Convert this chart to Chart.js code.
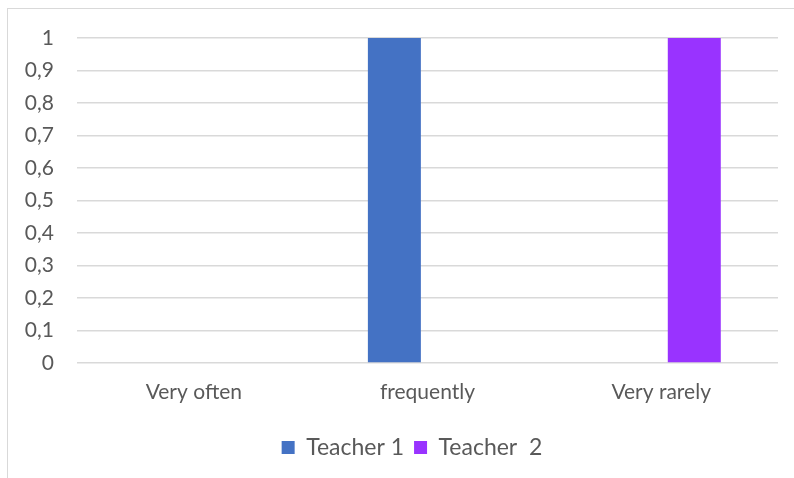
<!DOCTYPE html>
<html>
<head>
<meta charset="utf-8">
<script src="https://cdn.jsdelivr.net/npm/chart.js@4.4.1/dist/chart.umd.min.js"></script>
<style>
  html, body { margin: 0; padding: 0; background: #fff; overflow: hidden; }
  #frame {
    position: absolute; left: 7px; top: 8px;
    width: 800px; height: 480px;
    border-left: 1px solid #d9d9d9; border-top: 1px solid #d9d9d9;
  }
  #wrap { position: absolute; left: 0; top: 0; width: 786px; height: 469px; }
</style>
</head>
<body>
<div id="frame"><div id="wrap"><canvas id="chart"></canvas></div></div>
<script>
const categories = ['Very often', 'frequently', 'Very rarely'];
const teacher1 = [0, 1, 0];
const teacher2 = [0, 0, 1];
const seriesNames = ['Teacher 1', 'Teacher  2'];

const textColor = '#595959';
const fontFamily = 'Lato, "Noto Sans", sans-serif';

Chart.defaults.font.family = fontFamily;
Chart.defaults.color = textColor;

// nudge the legend a little to the right of the canvas centre
const legendShift = {
  id: 'legendShift',
  afterLayout(chart, args, opts) {
    const lg = chart.legend;
    lg.left += opts.dx;
    lg.right += opts.dx;
  }
};

new Chart(document.getElementById('chart'), {
  type: 'bar',
  data: {
    labels: categories,
    datasets: [
      { label: seriesNames[0], data: teacher1, backgroundColor: '#4472C4' },
      { label: seriesNames[1], data: teacher2, backgroundColor: '#9933FF' }
    ]
  },
  options: {
    responsive: true,
    maintainAspectRatio: false,
    animation: false,
    categoryPercentage: 0.567,
    barPercentage: 0.8,
    layout: { padding: { left: 0, right: 16, top: 29, bottom: 9 } },
    plugins: {
      tooltip: { enabled: false },
      legendShift: { dx: 19 },
      legend: {
        position: 'bottom',
        labels: {
          boxWidth: 13,
          boxHeight: 13,
          padding: 10,
          font: { size: 23 },
          color: textColor
        }
      }
    },
    scales: {
      x: {
        grid: { display: false },
        border: { display: false },
        ticks: { padding: 9, font: { size: 21 }, color: textColor },
        afterFit: (scale) => { scale.height = 63; }
      },
      y: {
        min: 0,
        max: 1,
        border: { display: false },
        grid: { color: '#d9d9d9', lineWidth: 1.5, drawTicks: false },
        ticks: {
          stepSize: 0.1,
          padding: 23,
          font: { size: 21 },
          color: textColor,
          callback: (v) => String(Math.round(v * 10) / 10).replace('.', ',')
        },
        afterFit: (scale) => {
          scale.width = 69;
          scale.paddingTop = 0;
          scale.paddingBottom = 0;
        }
      }
    }
  },
  plugins: [legendShift]
});
</script>
</body>
</html>
